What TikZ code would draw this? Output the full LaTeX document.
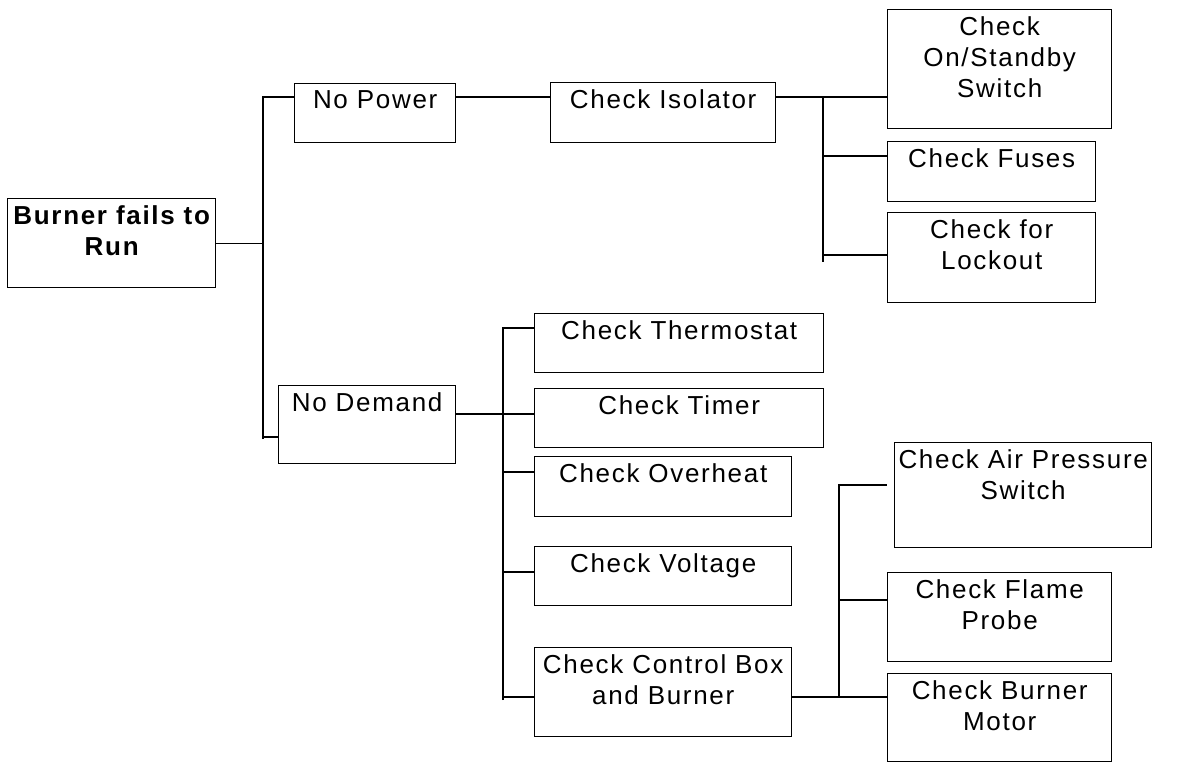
\documentclass[tikz,border=0pt]{standalone}
\usepackage{fontspec}
\setmainfont{Liberation Sans}[LetterSpace=6.5]

\tikzset{
	box/.style={draw, anchor=north west, inner sep=0pt},
	tag/.style={anchor=north, align=center, inner sep=0pt, yshift=-7pt,
		font=\fontsize{26}{31}\selectfont},
	roottag/.style={tag, font=\fontsize{26}{31}\selectfont\bfseries},
}

\begin{document}
\begin{tikzpicture}[x=1pt, y=1pt, line width=1.4pt]
		\useasboundingbox (0, 0) rectangle (1177, -762);

		% Boxes
		\node[box, minimum width=208, minimum height=89, label={[roottag]north:{Burner fails to\\Run}}] (burner) at (7, -198) {};
		\node[box, minimum width=161, minimum height=59, label={[tag]north:No Power}] (nopower) at (294, -83) {};
		\node[box, minimum width=177, minimum height=78, label={[tag]north:No Demand}] (nodemand) at (278, -385) {};

		\node[box, minimum width=225, minimum height=60, label={[tag]north:Check Isolator}] (isolator) at (550, -82) {};
		\node[box, minimum width=224, minimum height=119, label={[tag]north:{Check\\On/Standby\\Switch}}] (onstandby) at (887, -9) {};
		\node[box, minimum width=208, minimum height=60, label={[tag]north:Check Fuses}] (fuses) at (887, -141) {};
		\node[box, minimum width=208, minimum height=90, label={[tag]north:{Check for\\Lockout}}] (lockout) at (887, -212) {};

		\node[box, minimum width=289, minimum height=59, label={[tag]north:Check Thermostat}] (thermostat) at (534, -313) {};
		\node[box, minimum width=289, minimum height=59, label={[tag]north:Check Timer}] (timer) at (534, -388) {};
		\node[box, minimum width=257, minimum height=60, label={[tag]north:Check Overheat}] (overheat) at (534, -456) {};
		\node[box, minimum width=257, minimum height=59, label={[tag]north:Check Voltage}] (voltage) at (534, -546) {};
		\node[box, minimum width=257, minimum height=89, label={[tag]north:{Check Control Box\\and Burner}}] (control) at (534, -647) {};

		\node[box, minimum width=257, minimum height=105, label={[tag]north:{Check Air Pressure\\Switch}}] (airpressure) at (894, -442) {};
		\node[box, minimum width=224, minimum height=89, label={[tag]north:{Check Flame\\Probe}}] (flame) at (887, -572) {};
		\node[box, minimum width=224, minimum height=88, label={[tag]north:{Check Burner\\Motor}}] (motor) at (887, -673) {};

		% Root bus
		\coordinate (a1) at (263, -97);
		\coordinate (a2) at (263, -437);
		\coordinate (a3) at (263, -439);

		\draw (a3) -- (a1) -- (a1 -| nopower.west);
		\draw (burner.east) -- (burner.east -| a1);
		\draw (a2) -- (a2 -| nodemand.west);

		% No Power
		\coordinate (b1) at (823, -97);
		\coordinate (b2) at (823, -156);
		\coordinate (b3) at (823, -255);
		\coordinate (b4) at (823, -262);

		\draw (nopower.east |- a1) -- (isolator.west |- a1);
		\draw (isolator.east |- b1) -- (onstandby.west |- b1);
		\draw (b1) -- (b4);
		\draw (b2) -- (b2 -| fuses.west);
		\draw (b3) -- (b3 -| lockout.west);

		% No Demand
		\coordinate (c1) at (503, -328);
		\coordinate (c2) at (503, -414);
		\coordinate (c3) at (503, -472);
		\coordinate (c4) at (503, -572);
		\coordinate (c5) at (503, -697);
		\coordinate (c6) at (503, -700);

		\draw (c6) -- (c1) -- (c1 -| thermostat.west);
		\draw (nodemand.east |- c2) -- (timer.west |- c2);
		\draw (c3) -- (c3 -| overheat.west);
		\draw (c4) -- (c4 -| voltage.west);
		\draw (c5) -- (c5 -| control.west);

		% Control box and burner
		\coordinate (d1) at (839, -485);
		\coordinate (d2) at (839, -600);
		\coordinate (d3) at (839, -697);

		\draw (d3) -- (d1) -- (d1 -| flame.west);
		\draw (d2) -- (d2 -| flame.west);
		\draw (control.east |- d3) -- (motor.west |- d3);
	\end{tikzpicture}
\end{document}
